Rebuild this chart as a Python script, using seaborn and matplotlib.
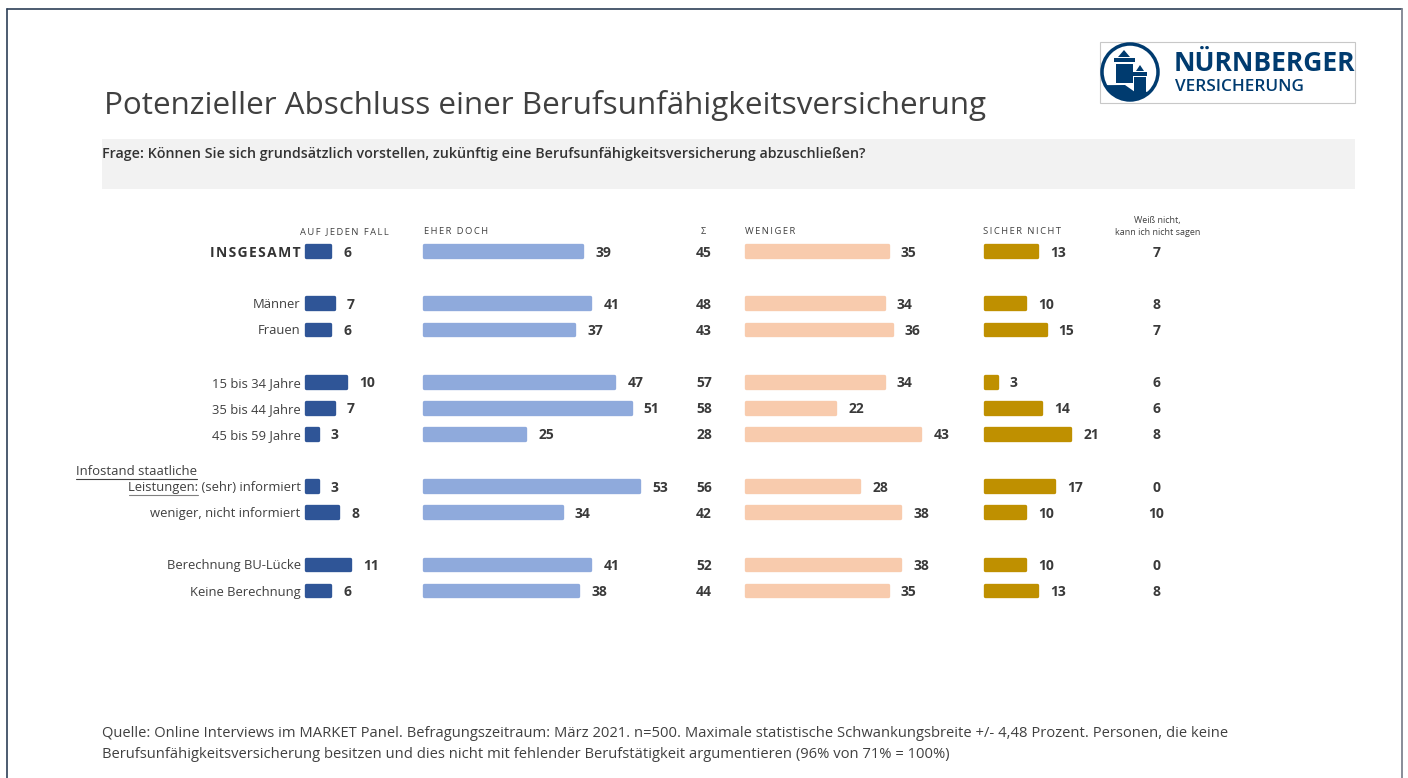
import matplotlib
matplotlib.use("Agg")
import matplotlib.pyplot as plt
from matplotlib.patches import Rectangle, Circle, Polygon
import numpy as np
import pandas as pd
import seaborn as sns

W, H = 1408, 778

rows = ["INSGESAMT", " ", "Männer", "Frauen", "  ", "15 bis 34 Jahre", "35 bis 44 Jahre",
        "45 bis 59 Jahre", "   ", "Leistungen: (sehr) informiert", "weniger, nicht informiert",
        "    ", "Berechnung BU-Lücke", "Keine Berechnung"]
auf_jeden_fall = [6, None, 7, 6, None, 10, 7, 3, None, 3, 8, None, 11, 6]
eher_doch = [39, None, 41, 37, None, 47, 51, 25, None, 53, 34, None, 41, 38]
summe = [45, None, 48, 43, None, 57, 58, 28, None, 56, 42, None, 52, 44]
weniger = [35, None, 34, 36, None, 34, 22, 43, None, 28, 38, None, 38, 35]
sicher_nicht = [13, None, 10, 15, None, 3, 14, 21, None, 17, 10, None, 10, 13]
weiss_nicht = [7, None, 8, 7, None, 6, 6, 8, None, 0, 10, None, 0, 8]

title = "Potenzieller Abschluss einer Berufsunfähigkeitsversicherung"
frage = "Frage: Können Sie sich grundsätzlich vorstellen, zukünftig eine Berufsunfähigkeitsversicherung abzuschließen?"
quelle = ["Quelle: Online Interviews im MARKET Panel. Befragungszeitraum: März 2021. n=500. Maximale statistische Schwankungsbreite +/- 4,48 Prozent. Personen, die keine",
          "Berufsunfähigkeitsversicherung besitzen und dies nicht mit fehlender Berufstätigkeit argumentieren (96% von 71% = 100%)"]

TXT = "#404040"
NAVY = "#003B6F"
sns.set_theme(style="white")
plt.rcParams["font.family"] = ["Open Sans", "DejaVu Sans"]

df = pd.DataFrame({"row": rows, "a": auf_jeden_fall, "b": eher_doch, "c": weniger, "d": sicher_nicht})
df[["a", "b", "c", "d"]] = df[["a", "b", "c", "d"]].astype(float)

fig = plt.figure(figsize=(W / 100, H / 100), dpi=100, facecolor="white")

# page furniture in pixel coords
bg = fig.add_axes([0, 0, 1, 1])
bg.set_xlim(0, W)
bg.set_ylim(H, 0)
bg.axis("off")
bg.plot([6.5, 6.5], [H, 9], color="#2E4057", lw=1.2)
bg.plot([6.5, 1402], [9, 9], color="#2E4057", lw=1.2)
bg.plot([1402, 1402], [9, H], color="#7F8490", lw=1.3)
bg.add_patch(Rectangle((102, 139), 1253, 50, color="#F2F2F2", lw=0))
bg.text(104, 105, title, fontsize=22.58, color=TXT, va="center")
bg.text(102, 154, frage, fontsize=10.3, color="#333333", weight="semibold", va="center")
bg.text(102, 733.5, quelle[0], fontsize=10.6, color=TXT, va="center")
bg.text(102, 754.5, quelle[1], fontsize=10.6, color=TXT, va="center")

# logo
bg.add_patch(Rectangle((1100, 41.5), 255, 61, fc="white", ec="#C8C8C8", lw=0.8))
bg.add_patch(Circle((1130, 72), 28, fc="white", ec=NAVY, lw=2.5))
t = np.radians(np.linspace(45, 152, 40))
arc = np.column_stack([1130 + 28 * np.cos(t), 72 + 28 * np.sin(t)])
bg.add_patch(Polygon(np.vstack([arc, [(1125, 85), (1135, 92)]]), fc=NAVY, lw=0))
bg.add_patch(Rectangle((1116, 64), 17, 19, fc=NAVY, lw=0))
bg.add_patch(Rectangle((1114, 58), 21, 4, fc=NAVY, lw=0))
bg.add_patch(Polygon([(1118, 57), (1124, 50), (1130, 57)], fc=NAVY, lw=0))
bg.add_patch(Rectangle((1134, 77), 12, 15, fc=NAVY, lw=0))
bg.add_patch(Rectangle((1133, 72), 14, 3.5, fc=NAVY, lw=0))
bg.add_patch(Polygon([(1136, 71), (1140, 65), (1144, 71)], fc=NAVY, lw=0))
bg.text(1174, 63, "NÜRNBERGER", fontsize=19, weight="bold", color=NAVY, va="center")
bg.text(1175, 87, "VERSICHERUNG", fontsize=12.3, weight="semibold", color=NAVY, va="center")


def spaced(s, sep="\u2009"):
    return sep.join(s)


# header labels
for x, s in [(300, "AUF JEDEN FALL"), (424, "EHER DOCH"), (745, "WENIGER"), (983, "SICHER NICHT")]:
    bg.text(x, 231.5, spaced(s), fontsize=6.75, color=TXT, va="center")
bg.text(703, 231.5, "Σ", fontsize=6.5, color=TXT, va="center", ha="center")
bg.text(1157.5, 226.5, "Weiß nicht,\nkann ich nicht sagen", fontsize=6.5, color=TXT, va="center", ha="center",
        linespacing=1.4)

# "Infostand" label and underlines
bg.text(76, 471.5, "Infostand staatliche", fontsize=9.45, color=TXT, va="center")
bg.plot([76, 197], [478.5, 478.5], color=TXT, lw=0.8)
bg.plot([129, 198], [494.5, 494.5], color="#808080", lw=0.8)

TOP, BOTTOM = 238, 603.6
PX = 4.06
panels = [("a", 305.5, 110, "#2F5597"), ("b", 423.6, 280, "#8FAADC"),
          ("c", 745.6, 220, "#F8CBAD"), ("d", 984.6, 120, "#BF9000")]
axes = []
for col, left, width, color in panels:
    ax = fig.add_axes([left / W, 1 - BOTTOM / H, width / W, (BOTTOM - TOP) / H])
    ax.patch.set_alpha(0)
    # thick edge with round joins gives the rounded bar corners
    sns.barplot(data=df, y="row", x=col, order=rows, color=color, width=0.45, saturation=1, ax=ax,
                edgecolor=color, linewidth=2.4)
    for p in ax.patches:
        p.set_joinstyle("round")
        p.set_clip_on(False)
    for c in ax.containers:
        labels = ["" if pd.isna(v) else f"{v:.0f}" for v in c.datavalues]
        for lab in ax.bar_label(c, labels=labels, padding=9.5, fontsize=10, weight="bold", color="#3A3A3A"):
            lab.set_va("center_baseline")
    ax.set_xlim(0, width / PX)
    ax.set_ylim(13.5, -0.5)
    ax.set_xlabel("")
    ax.set_ylabel("")
    ax.set_xticks([])
    sns.despine(ax=ax, left=True, bottom=True)
    ax.tick_params(axis="y", length=0, pad=3.5, labelsize=9.4, labelcolor=TXT)
    if col != "a":
        ax.set_yticks([])
    axes.append(ax)

first = axes[0]
first.set_yticks(range(len(rows)))
first.set_yticklabels([spaced(rows[0], "\u200a")] + rows[1:])
head = first.get_yticklabels()[0]
head.set_fontweight("bold")
head.set_fontsize(10)
head.set_color("#333333")

# sum and "weiß nicht" columns share the row positions of the first panel
trans = first.get_yaxis_transform()
for i in range(len(rows)):
    if summe[i] is None:
        continue
    for x_px, v in [(704, summe[i]), (1156.5, weiss_nicht[i])]:
        inv = first.transAxes.inverted().transform(fig.transFigure.transform((x_px / W, 0.5)))[0]
        first.text(inv, i, str(v), transform=trans, ha="center", va="center_baseline", fontsize=10, weight="bold",
                   color="#3A3A3A", clip_on=False)

fig.savefig("out.png", dpi=100)
